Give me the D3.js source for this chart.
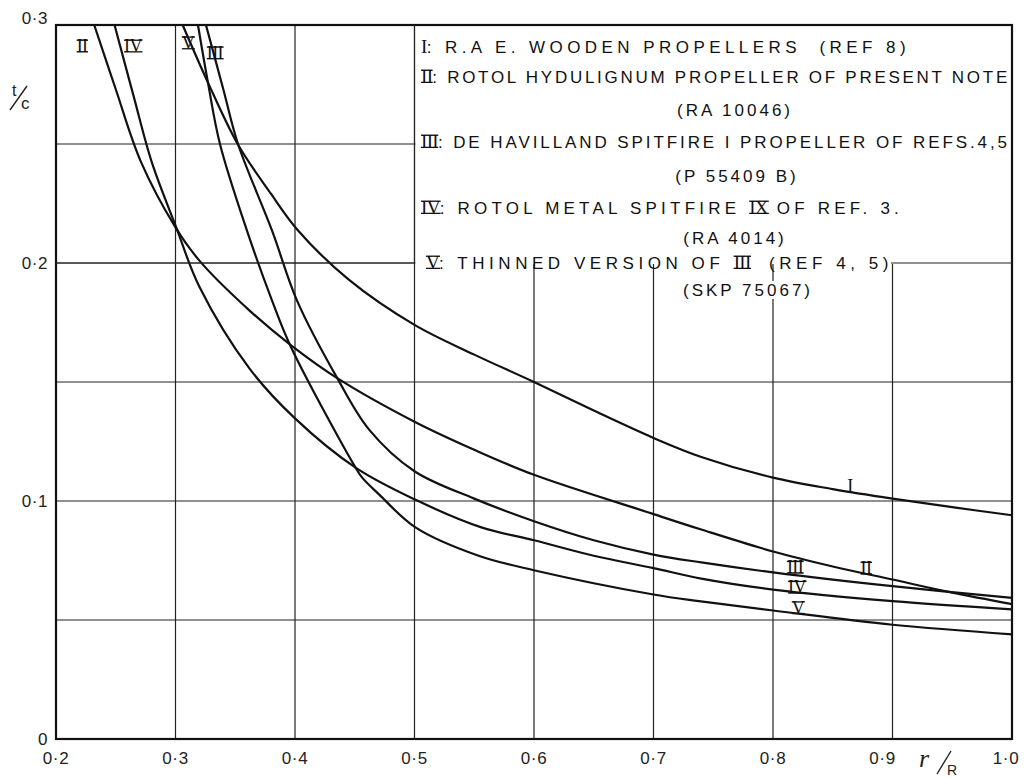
<!DOCTYPE html>
<html>
<head>
<meta charset="utf-8">
<title>t/c against r/R</title>
<style>
  body { margin: 0; background: #fff; }
  svg { display: block; }
  .tick { font: 17px "Liberation Sans", sans-serif; fill: #222; letter-spacing: 0.6px; }
  .leg { font: 17px "Liberation Sans", sans-serif; fill: #111; white-space: pre; }
  .num { font-family: "Liberation Serif", serif; font-size: 19px; letter-spacing: -0.7px; }
  .clab { font: 18px "Liberation Serif", serif; fill: #111; letter-spacing: -0.6px; }
  .curve { fill: none; stroke: #111; stroke-width: 2.2; stroke-linejoin: round; }
  .grid { stroke: #222; stroke-width: 1.2; }
  .bar { stroke: #111; stroke-width: 1.3; }
  .frame { stroke: #111; stroke-width: 2.2; fill: none; }
</style>
</head>
<body>
<svg id="chart" width="1030" height="778"></svg>
<script src="https://cdn.jsdelivr.net/npm/d3@7/dist/d3.min.js"></script>
<script>
// axis ticks
var xTicks = [0.2, 0.3, 0.4, 0.5, 0.6, 0.7, 0.8, 0.9, 1.0];
var xTickLabels = ["0·2", "0·3", "0·4", "0·5", "0·6", "0·7", "0·8", "0·9", "1·0"];
var yTicks = [0, 0.1, 0.2, 0.3];
var yTickLabels = ["0", "0·1", "0·2", "0·3"];
var xGrid = [0.3, 0.4, 0.5, 0.6, 0.7, 0.8, 0.9];
var yGrid = [0.05, 0.1, 0.15, 0.2, 0.25];

// t/c against r/R
var curveI = [[0.306, 0.300], [0.327, 0.276], [0.352, 0.250], [0.380, 0.229], [0.402, 0.214],
  [0.445, 0.193], [0.500, 0.174], [0.550, 0.1615], [0.600, 0.150], [0.650, 0.138], [0.700, 0.1265],
  [0.740, 0.1185], [0.800, 0.1098], [0.850, 0.105], [0.900, 0.101], [0.950, 0.0974], [1.000, 0.094]];
var curveII = [[0.232, 0.300], [0.250, 0.273], [0.271, 0.2426], [0.300, 0.215], [0.320, 0.201],
  [0.362, 0.180], [0.397, 0.1653], [0.436, 0.1514], [0.500, 0.1333], [0.550, 0.1215], [0.600, 0.111],
  [0.700, 0.0945], [0.740, 0.088], [0.800, 0.0788], [0.850, 0.0725], [0.900, 0.067], [0.950, 0.0615],
  [1.000, 0.0567]];
var curveIII = [[0.3255, 0.300], [0.340, 0.273], [0.3523, 0.250], [0.3808, 0.2136], [0.4017, 0.1842],
  [0.4356, 0.1514], [0.462, 0.130], [0.500, 0.1125], [0.550, 0.101], [0.600, 0.0915], [0.650, 0.0835],
  [0.700, 0.0775], [0.740, 0.0742], [0.800, 0.070], [0.900, 0.0642], [1.000, 0.0593]];
var curveIV = [[0.249, 0.300], [0.265, 0.270], [0.280, 0.2426], [0.3006, 0.215], [0.320, 0.190],
  [0.362, 0.1556], [0.400, 0.1347], [0.451, 0.1139], [0.500, 0.1007], [0.556, 0.0889], [0.600, 0.0835],
  [0.650, 0.077], [0.700, 0.0718], [0.740, 0.0674], [0.800, 0.0628], [0.900, 0.0579], [1.000, 0.0545]];
var curveV = [[0.3188, 0.300], [0.3272, 0.2757], [0.3372, 0.250], [0.3598, 0.2136], [0.3808, 0.1842],
  [0.3967, 0.1646], [0.4508, 0.1139], [0.4564, 0.1097], [0.4703, 0.1028], [0.5008, 0.0889],
  [0.553, 0.0771], [0.6017, 0.0707], [0.700, 0.0607], [0.738, 0.0579], [0.800, 0.054], [0.900, 0.048],
  [1.000, 0.044]];
var curves = [curveI, curveII, curveIII, curveIV, curveV];

// curve numerals drawn on the plot: [label, r/R, t/c]
var curveLabels = [["II", 0.2218, 0.2912], ["IV", 0.2644, 0.2912], ["V", 0.3105, 0.2925], ["III", 0.333, 0.2883],
  ["I", 0.8644, 0.1066], ["II", 0.8778, 0.0718], ["III", 0.8184, 0.0722], ["IV", 0.8201, 0.0638], ["V", 0.8209, 0.0552]];

// legend: each row is a list of [text, isNumeral]
var legendRows = [
  [["I", 1], [": R.A E. WOODEN PROPELLERS  (REF 8)", 0]],
  [["II", 1], [": ROTOL HYDULIGNUM PROPELLER OF PRESENT NOTE", 0]],
  [["III", 1], [": DE HAVILLAND SPITFIRE I PROPELLER OF REFS.4,5", 0]],
  [["IV", 1], [": ROTOL METAL SPITFIRE ", 0], ["IX", 1], [" OF REF. 3.", 0]],
  [["V", 1], [": THINNED VERSION OF ", 0], ["III", 1], ["  (REF 4, 5)", 0]]
];
var legendRefs = ["(RA 10046)", "(P 55409 B)", "(RA 4014)", "(SKP 75067)"];

var svg = d3.select("#chart");
var x = d3.scaleLinear().domain([0.2, 1.0]).range([56, 1012]);
var y = d3.scaleLinear().domain([0, 0.3]).range([739, 25]);

// bars above and below a roman numeral (not on a lone I)
function barNumeral(node, txt) {
  if (txt == "I") return;
  var b = node.getBBox();
  var top = b.y + b.height * 0.2, bot = b.y + b.height * 0.78;
  [top, bot].forEach(function(yy) {
    svg.append("line").attr("class", "bar")
      .attr("x1", b.x).attr("x2", b.x + b.width)
      .attr("y1", yy).attr("y2", yy);
  });
}

// grid
svg.append("g").selectAll("line").data(yGrid).enter().append("line")
  .attr("class", "grid")
  .attr("x1", x(0.2)).attr("x2", x(1.0))
  .attr("y1", function(d) { return y(d); }).attr("y2", function(d) { return y(d); });
svg.append("g").selectAll("line").data(xGrid).enter().append("line")
  .attr("class", "grid")
  .attr("x1", function(d) { return x(d); }).attr("x2", function(d) { return x(d); })
  .attr("y1", y(0)).attr("y2", y(0.3));

// legend box blanks the grid in the top right corner
svg.append("rect")
  .attr("x", x(0.5) + 1).attr("y", y(0.3))
  .attr("width", x(1.0) - x(0.5) - 1).attr("height", y(0.2) - y(0.3) + 1)
  .attr("fill", "#fff");

// frame
svg.append("rect").attr("class", "frame")
  .attr("x", x(0.2)).attr("y", y(0.3))
  .attr("width", x(1.0) - x(0.2)).attr("height", y(0) - y(0.3));

// curves
var line = d3.line()
  .x(function(d) { return x(d[0]); })
  .y(function(d) { return y(d[1]); })
  .curve(d3.curveCatmullRom.alpha(0.5));
svg.append("g").selectAll("path").data(curves).enter().append("path")
  .attr("class", "curve")
  .attr("d", line);

// curve numerals
svg.append("g").selectAll("text").data(curveLabels).enter().append("text")
  .attr("class", "clab")
  .attr("x", function(d) { return x(d[1]); })
  .attr("y", function(d) { return y(d[2]); })
  .attr("text-anchor", "middle")
  .attr("dy", "0.35em")
  .text(function(d) { return d[0]; })
  .each(function(d) { barNumeral(this, d[0]); });

// ticks
svg.append("g").selectAll("text").data(xTicks).enter().append("text")
  .attr("class", "tick")
  .attr("x", function(d, i) { return x(d) + (i == 7 ? -10 : i == 8 ? -6 : 0); })
  .attr("y", 764)
  .attr("text-anchor", "middle")
  .text(function(d, i) { return xTickLabels[i]; });
svg.append("g").selectAll("text").data(yTicks).enter().append("text")
  .attr("class", "tick")
  .attr("x", 48)
  .attr("y", function(d, i) { return y(d) + (i == 3 ? -1 : 6); })
  .attr("text-anchor", "end")
  .text(function(d, i) { return yTickLabels[i]; });

// axis names
var tc = svg.append("g").attr("class", "tick");
tc.append("text").attr("x", 12).attr("y", 96).style("font-size", "16px").text("t");
tc.append("line").attr("x1", 10).attr("y1", 110).attr("x2", 27).attr("y2", 86).attr("stroke", "#222").attr("stroke-width", 1.4);
tc.append("text").attr("x", 21).attr("y", 109).style("font-size", "17px").text("c");
var rr = svg.append("g").attr("class", "tick");
rr.append("text").attr("x", 919).attr("y", 767).style("font", "italic 26px 'Liberation Serif', serif").text("r");
rr.append("line").attr("x1", 937).attr("y1", 774).attr("x2", 951).attr("y2", 751).attr("stroke", "#222").attr("stroke-width", 1.4);
rr.append("text").attr("x", 947).attr("y", 775).style("font-size", "14px").style("letter-spacing", "0").text("R");

// legend rows, stretched with letter spacing to the hand lettered widths
var rowY = [53, 83, 148, 214, 269];
var rowX = [421, 421, 421, 421, 426];
var rowEnd = [910, 1010, 1010, 903, 893];
var rows = svg.append("g").selectAll("text").data(legendRows).enter().append("text")
  .attr("class", "leg")
  .attr("x", function(d, i) { return rowX[i]; })
  .attr("y", function(d, i) { return rowY[i]; });
rows.selectAll("tspan").data(function(d) { return d; }).enter().append("tspan")
  .attr("class", function(d) { return d[1] ? "num" : null; })
  .text(function(d) { return d[0]; });
rows.each(function(d, i) {
  var natural = this.getComputedTextLength();
  var n = 0;
  d.forEach(function(s) { if (!s[1]) n += s[0].length; });
  var sp = Math.max(0, (rowEnd[i] - rowX[i] - natural) / n);
  d3.select(this).selectAll("tspan").filter(function(s) { return !s[1]; })
    .style("letter-spacing", sp + "px");
  d3.select(this).selectAll("tspan").filter(function(s) { return s[1]; })
    .each(function(s) { barNumeral(this, s[0]); });
});

// 0.2 grid line continues after the last legend row
var lastRow = rows.nodes()[4].getBBox();
svg.append("line").attr("class", "grid")
  .attr("x1", lastRow.x + lastRow.width - 2).attr("x2", x(1.0))
  .attr("y1", y(0.2)).attr("y2", y(0.2));
svg.append("line").attr("class", "grid")
  .attr("x1", x(0.2)).attr("x2", x(0.5))
  .attr("y1", y(0.2)).attr("y2", y(0.2));
svg.append("line").attr("class", "grid").attr("stroke-width", 1.6)
  .attr("x1", x(0.5)).attr("x2", x(0.5))
  .attr("y1", y(0.3)).attr("y2", y(0.2));

var refY = [116, 182, 244, 296];
var refX = [735, 737, 735, 748];
svg.append("g").selectAll("text").data(legendRefs).enter().append("text")
  .attr("class", "leg")
  .attr("x", function(d, i) { return refX[i]; })
  .attr("y", function(d, i) { return refY[i]; })
  .attr("text-anchor", "middle")
  .style("letter-spacing", "3px")
  .style("stroke", "#fff").style("stroke-width", 6).style("paint-order", "stroke")
  .text(function(d) { return d; });
</script>
</body>
</html>
